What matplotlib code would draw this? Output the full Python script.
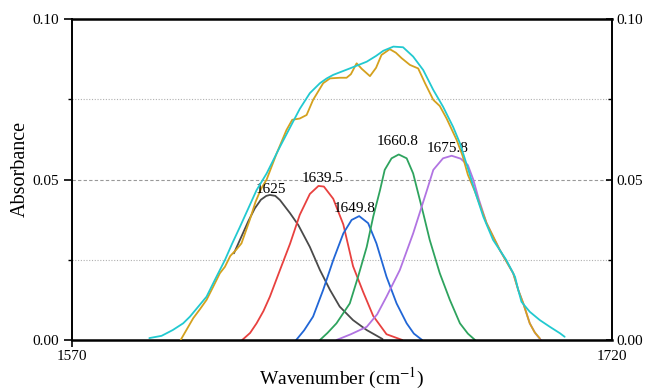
import matplotlib
matplotlib.use("Agg")
import matplotlib.pyplot as plt
from matplotlib.ticker import FixedLocator

plt.rcParams["font.family"] = "Liberation Serif"
plt.rcParams["mathtext.fontset"] = "stix"

# measured spectrum (gold)
wn_meas = [1600.2, 1602.0, 1603.7, 1605.5, 1607.4, 1609.2, 1611.1, 1612.5, 1614.0, 1615.7,
           1617.1, 1619.4, 1621.0, 1622.5, 1624.1, 1626.9, 1629.6, 1631.2, 1633.3, 1635.2,
           1637.0, 1639.8, 1641.7, 1644.5, 1646.3, 1647.5, 1649.1, 1650.5, 1652.8, 1654.5,
           1656.0, 1658.3, 1660.0, 1661.6, 1663.9, 1666.2, 1668.1, 1670.4, 1672.2, 1674.1,
           1676.9, 1678.5, 1680.0, 1682.0, 1685.2, 1688.9, 1692.6, 1694.0, 1695.4, 1697.2,
           1698.5, 1700.0]
abs_meas = [0.0000, 0.0035, 0.0068, 0.0095, 0.0125, 0.0165, 0.0208, 0.0228, 0.0262, 0.0282,
            0.0301, 0.0374, 0.0430, 0.0470, 0.0500, 0.0582, 0.0654, 0.0686, 0.0690, 0.0701,
            0.0748, 0.0800, 0.0815, 0.0817, 0.0817, 0.0828, 0.0862, 0.0845, 0.0822, 0.0848,
            0.0888, 0.0906, 0.0895, 0.0878, 0.0857, 0.0846, 0.0800, 0.0748, 0.0729, 0.0690,
            0.0623, 0.0575, 0.0515, 0.0462, 0.0364, 0.0280, 0.0208, 0.0156, 0.0114, 0.0052,
            0.0025, 0.0005]

# fitted envelope (cyan)
wn_fit = [1591.5, 1594.9, 1598.0, 1600.9, 1602.8, 1605.1, 1607.4, 1609.7, 1612.5, 1614.5,
          1616.7, 1619.0, 1621.3, 1624.1, 1627.8, 1630.5, 1633.3, 1636.1, 1638.9, 1640.8,
          1642.6, 1647.2, 1651.9, 1654.5, 1656.5, 1659.3, 1662.0, 1664.8, 1667.6, 1670.4,
          1673.1, 1675.9, 1677.8, 1680.0, 1682.0, 1684.3, 1687.0, 1690.7, 1693.1, 1694.0,
          1694.9, 1697.2, 1700.0, 1702.8, 1705.6, 1706.9]
abs_fit = [0.0006, 0.0013, 0.0031, 0.0052, 0.0073, 0.0104, 0.0135, 0.0187, 0.0249, 0.0300,
           0.0353, 0.0410, 0.0467, 0.0519, 0.0602, 0.0660, 0.0720, 0.0769, 0.0800, 0.0815,
           0.0826, 0.0846, 0.0867, 0.0885, 0.0901, 0.0914, 0.0912, 0.0883, 0.0841, 0.0779,
           0.0727, 0.0664, 0.0613, 0.0535, 0.0462, 0.0384, 0.0312, 0.0249, 0.0197, 0.0156,
           0.0119, 0.0088, 0.0062, 0.0041, 0.0021, 0.0010]

# fitted component bands
wn_1625 = [1615.0, 1617.0, 1619.0, 1620.8, 1622.5, 1624.0, 1625.0, 1626.5, 1627.8, 1630.6,
           1632.9, 1636.1, 1638.9, 1641.7, 1644.4, 1648.1, 1651.9, 1656.3]
abs_1625 = [0.0270, 0.0320, 0.0370, 0.0410, 0.0437, 0.0449, 0.0452, 0.0449, 0.0436, 0.0395,
            0.0358, 0.0290, 0.0218, 0.0156, 0.0104, 0.0062, 0.0031, 0.0003]

wn_1639 = [1617.3, 1619.5, 1621.3, 1623.2, 1625.0, 1627.8, 1630.6, 1633.3, 1636.1, 1638.5,
           1640.0, 1642.6, 1645.4, 1648.1, 1650.9, 1653.7, 1657.4, 1661.8]
abs_1639 = [0.0000, 0.0022, 0.0052, 0.0090, 0.0135, 0.0218, 0.0300, 0.0390, 0.0455, 0.0480,
            0.0478, 0.0440, 0.0360, 0.0230, 0.0150, 0.0075, 0.0018, 0.0000]

wn_1649 = [1632.3, 1634.5, 1637.0, 1639.8, 1642.6, 1645.4, 1647.7, 1649.8, 1652.3, 1654.6,
           1657.4, 1660.2, 1663.0, 1665.0, 1667.3]
abs_1649 = [0.0000, 0.0030, 0.0073, 0.0156, 0.0249, 0.0332, 0.0374, 0.0386, 0.0364, 0.0301,
            0.0197, 0.0114, 0.0052, 0.0020, 0.0000]

wn_1660 = [1638.9, 1641.0, 1643.5, 1647.2, 1649.5, 1651.9, 1653.7, 1655.6, 1656.9, 1658.8,
           1660.8, 1663.0, 1664.8, 1666.2, 1667.6, 1669.4, 1672.2, 1675.0, 1677.8, 1680.0,
           1682.0]
abs_1660 = [0.0000, 0.0022, 0.0052, 0.0114, 0.0197, 0.0290, 0.0384, 0.0467, 0.0530, 0.0566,
            0.0578, 0.0566, 0.0519, 0.0457, 0.0395, 0.0312, 0.0208, 0.0125, 0.0052, 0.0020,
            0.0000]

wn_1675 = [1643.5, 1647.5, 1651.9, 1654.8, 1657.4, 1661.1, 1664.8, 1668.5, 1670.4, 1673.1,
           1675.5, 1678.0, 1680.0, 1681.5, 1683.0, 1685.2, 1688.9, 1692.6, 1694.0, 1695.4,
           1697.2, 1698.8, 1700.3]
abs_1675 = [0.0000, 0.0018, 0.0041, 0.0080, 0.0135, 0.0218, 0.0332, 0.0462, 0.0530, 0.0566,
            0.0574, 0.0565, 0.0545, 0.0500, 0.0440, 0.0364, 0.0280, 0.0208, 0.0156, 0.0114,
            0.0052, 0.0020, 0.0000]

peak_labels = ["1625", "1639.5", "1649.8", "1660.8", "1675.8"]

fig = plt.figure(figsize=(6.6, 3.91), dpi=100)
ax = fig.add_axes([0.109, 0.1304, 0.818, 0.821])

# horizontal guide lines
ax.axhline(0.025, color="#b0b0b0", ls=(0, (1, 1.5)), lw=0.8, zorder=1)
ax.axhline(0.075, color="#b0b0b0", ls=(0, (1, 1.5)), lw=0.8, zorder=1)
ax.axhline(0.05, color="#999999", ls=(0, (3, 2)), lw=0.8, zorder=1)

kw = dict(lw=1.3, solid_joinstyle="round", solid_capstyle="round")
ax.plot(wn_1625, abs_1625, color="#4a4a4a", zorder=2, **kw)
ax.plot(wn_1639, abs_1639, color="#e8413f", zorder=2, **kw)
ax.plot(wn_1649, abs_1649, color="#2166d6", zorder=2, **kw)
ax.plot(wn_1660, abs_1660, color="#2ea35e", zorder=2, **kw)
ax.plot(wn_1675, abs_1675, color="#b174e2", zorder=2, **kw)
ax.plot(wn_meas, abs_meas, color="#d4a11e", zorder=3, **kw)
ax.plot(wn_fit, abs_fit, color="#22c9d0", zorder=4, **kw)

fs_peak = 11
ax.text(1625.3, 0.0458, peak_labels[0], ha="center", va="baseline", fontsize=fs_peak)
ax.text(1639.7, 0.0492, peak_labels[1], ha="center", va="baseline", fontsize=fs_peak)
ax.text(1648.6, 0.0399, peak_labels[2], ha="center", va="baseline", fontsize=fs_peak)
ax.text(1660.6, 0.0607, peak_labels[3], ha="center", va="baseline", fontsize=fs_peak)
ax.text(1674.4, 0.0586, peak_labels[4], ha="center", va="baseline", fontsize=fs_peak)

ax.set_xlim(1570, 1720)
ax.set_ylim(0, 0.10)
ax.set_xticks([1570, 1720])
ax.set_xticklabels(["1570", "1720"])
ax.set_yticks([0.0, 0.05, 0.10])
ax.set_yticklabels(["0.00", "0.05", "0.10"])
ax.yaxis.set_minor_locator(FixedLocator([0.025, 0.075]))
ax.tick_params(axis="y", which="major", direction="out", length=6, width=1.2,
               labelsize=11, pad=3, right=False)
ax.tick_params(axis="y", which="minor", direction="out", length=3, width=1.0, right=False)
ax.tick_params(axis="x", which="major", direction="out", length=5, width=1.2,
               labelsize=11, pad=2, top=False)
ax.xaxis.get_major_ticks()[1].tick1line.set_visible(False)

for side in ["left", "right"]:
    ax.spines[side].set_linewidth(1.4)
for side in ["top", "bottom"]:
    ax.spines[side].set_linewidth(1.8)

ax2 = ax.twinx()
ax2.set_ylim(0, 0.10)
ax2.set_yticks([0.0, 0.05, 0.10])
ax2.set_yticklabels(["0.00", "0.05", "0.10"])
ax2.yaxis.set_minor_locator(FixedLocator([0.025, 0.075]))
ax2.tick_params(axis="y", which="major", direction="in", length=4, width=1.2,
                labelsize=11, pad=3)
ax2.tick_params(axis="y", which="minor", direction="in", length=3, width=1.0)
for s in ax2.spines.values():
    s.set_visible(False)

ax.set_xlabel(r"Wavenumber (cm$^{-1}$)", fontsize=14)
ax.xaxis.set_label_coords(0.5, -0.08)
ax.set_ylabel("Absorbance", fontsize=14.5)
ax.yaxis.set_label_coords(-0.078, 0.533)

fig.savefig("out.png", dpi=100)
